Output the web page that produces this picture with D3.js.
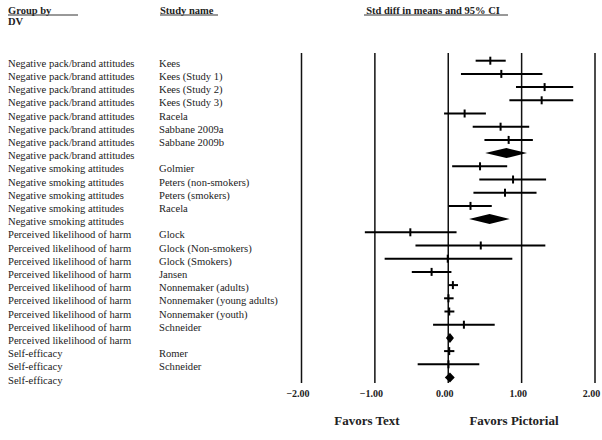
<!DOCTYPE html>
<html>
<head>
<meta charset="utf-8">
<script src="https://cdn.jsdelivr.net/npm/d3@7"></script>
<style>
  body { margin: 0; background: #fff; }
  svg text { font-family: "Liberation Serif", "DejaVu Serif", serif; fill: #222; }
  .bold { font-weight: bold; }
</style>
</head>
<body>
<div id="container"></div>
<script>
// forest plot: std diff in means, text vs pictorial warnings

var serif = "'Liberation Serif', 'DejaVu Serif', serif";

// row data (summary rows have an empty study name)
var groups = [
  "Negative pack/brand attitudes", "Negative pack/brand attitudes", "Negative pack/brand attitudes",
  "Negative pack/brand attitudes", "Negative pack/brand attitudes", "Negative pack/brand attitudes",
  "Negative pack/brand attitudes", "Negative pack/brand attitudes",
  "Negative smoking attitudes", "Negative smoking attitudes", "Negative smoking attitudes",
  "Negative smoking attitudes", "Negative smoking attitudes",
  "Perceived likelihood of harm", "Perceived likelihood of harm", "Perceived likelihood of harm",
  "Perceived likelihood of harm", "Perceived likelihood of harm", "Perceived likelihood of harm",
  "Perceived likelihood of harm", "Perceived likelihood of harm", "Perceived likelihood of harm",
  "Self-efficacy", "Self-efficacy", "Self-efficacy"
];
var studies = [
  "Kees", "Kees (Study 1)", "Kees (Study 2)", "Kees (Study 3)", "Racela", "Sabbane 2009a", "Sabbane 2009b", "",
  "Golmier", "Peters (non-smokers)", "Peters (smokers)", "Racela", "",
  "Glock", "Glock (Non-smokers)", "Glock (Smokers)", "Jansen", "Nonnemaker (adults)",
  "Nonnemaker (young adults)", "Nonnemaker (youth)", "Schneider", "",
  "Romer", "Schneider", ""
];
var estimates = [0.58, 0.73, 1.32, 1.28, 0.23, 0.72, 0.83, 0.80,
                 0.44, 0.89, 0.78, 0.31, 0.57,
                 -0.51, 0.45, 0.00, -0.22, 0.07, 0.01, 0.02, 0.22, 0.03,
                 0.02, 0.01, 0.03];
var lowers = [0.38, 0.18, 0.93, 0.84, -0.05, 0.34, 0.50, 0.51,
              0.06, 0.43, 0.35, 0.01, 0.29,
              -1.13, -0.44, -0.86, -0.49, 0.01, -0.05, -0.045, -0.20, -0.02,
              -0.05, -0.41, -0.04];
var uppers = [0.79, 1.29, 1.71, 1.71, 0.52, 1.11, 1.16, 1.08,
              0.81, 1.34, 1.21, 0.60, 0.845,
              0.12, 1.33, 0.88, 0.05, 0.14, 0.08, 0.09, 0.64, 0.08,
              0.09, 0.43, 0.095];
var tickValues = [-2, -1, 0, 1, 2];

var rows = studies.map(function(s, i) {
  return { group: groups[i], study: s, est: estimates[i], lo: lowers[i], hi: uppers[i], summary: s === "" };
});

var width = 602, height = 440;

var svg = d3.select("#container").append("svg")
    .attr("width", width)
    .attr("height", height);

// scales
var x = d3.scaleLinear().domain([-2, 2]).range([301, 594.5]);
var y = d3.scalePoint().domain(d3.range(rows.length)).range([60.7, 377.5]);

var axisBottomY = 383;

// axis with the tall vertical reference lines
var xAxis = d3.axisBottom(x)
    .tickValues(tickValues)
    .tickFormat(d3.format(".2f"))
    .tickSizeInner(-(axisBottomY - 53))
    .tickSizeOuter(0)
    .tickPadding(7);

var ax = svg.append("g")
    .attr("transform", "translate(0," + axisBottomY + ")")
    .call(xAxis)
    .attr("font-family", serif);
ax.select(".domain").remove();
ax.selectAll(".tick line").attr("stroke", "#111").attr("stroke-width", 1.5);
ax.selectAll(".tick text")
    .attr("class", "bold")
    .attr("dx", "-3.5")
    .style("font-size", "10px")
    .style("font-family", serif)
    .attr("fill", "#222");

// headers
function header(txt, xx, yy, anchor, ulFrom, ulTo) {
  svg.append("text")
      .attr("class", "bold")
      .attr("x", xx)
      .attr("y", yy)
      .attr("text-anchor", anchor)
      .style("font-family", serif)
      .style("font-size", "10.5px")
      .text(txt);
  if (ulFrom != null) {
    svg.append("line")
        .attr("x1", ulFrom).attr("x2", ulTo)
        .attr("y1", yy + 1).attr("y2", yy + 1)
        .attr("stroke", "#333").attr("stroke-width", 1);
  }
}
header("Group by", 8, 14, "start", 8, 78);
header("DV", 8, 25, "start", null, null);
header("Study name", 160, 14, "start", 160, 218);
header("Std diff in means and 95% CI", 433, 14, "middle", 364, 508);

// row labels
svg.selectAll("text.group")
    .data(rows)
  .enter().append("text")
    .attr("class", "group")
    .attr("x", 8)
    .attr("y", function(d, i) { return y(i) + 6; })
    .style("font-family", serif)
    .style("font-size", "10.6px")
    .text(function(d) { return d.group; });

svg.selectAll("text.study")
    .data(rows)
  .enter().append("text")
    .attr("class", "study")
    .attr("x", 159)
    .attr("y", function(d, i) { return y(i) + 6; })
    .style("font-family", serif)
    .style("font-size", "10.6px")
    .text(function(d) { return d.study; });

// study CIs
var studyRows = svg.selectAll("g.row")
    .data(rows)
  .enter().append("g")
    .attr("class", "row")
    .attr("transform", function(d, i) { return "translate(0," + y(i) + ")"; });

studyRows.filter(function(d) { return !d.summary; })
  .append("line")
    .attr("x1", function(d) { return x(d.lo); })
    .attr("x2", function(d) { return x(d.hi); })
    .attr("stroke", "#000")
    .attr("stroke-width", 2);

studyRows.filter(function(d) { return !d.summary; })
  .append("line")
    .attr("x1", function(d) { return x(d.est); })
    .attr("x2", function(d) { return x(d.est); })
    .attr("y1", -4)
    .attr("y2", 4)
    .attr("stroke", "#000")
    .attr("stroke-width", 2);

// summary diamonds
studyRows.filter(function(d) { return d.summary; })
  .append("path")
    .attr("d", function(d) {
      var h = 5;
      var l = Math.min(x(d.lo), x(d.est) - 4), r = Math.max(x(d.hi), x(d.est) + 4);
      return "M" + l + ",0L" + x(d.est) + "," + (-h) + "L" + r + ",0L" + x(d.est) + "," + h + "Z";
    })
    .attr("fill", "#000");

// bottom labels
svg.append("text")
    .attr("class", "bold")
    .attr("x", 367)
    .attr("y", 425)
    .attr("text-anchor", "middle")
    .style("font-family", serif)
    .style("font-size", "13px")
    .text("Favors Text");

svg.append("text")
    .attr("class", "bold")
    .attr("x", 514)
    .attr("y", 425)
    .attr("text-anchor", "middle")
    .style("font-family", serif)
    .style("font-size", "13px")
    .text("Favors Pictorial");
</script>
</body>
</html>
